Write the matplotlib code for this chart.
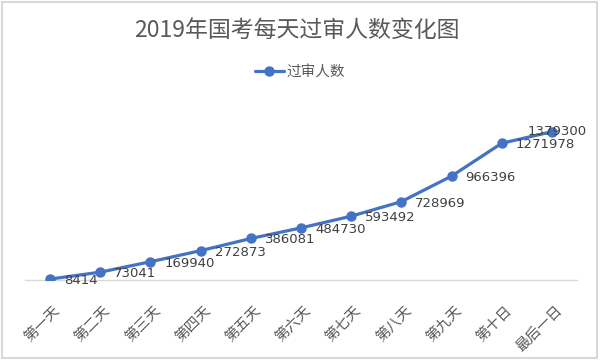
import matplotlib
matplotlib.use("Agg")
import matplotlib.pyplot as plt
from matplotlib.patches import Rectangle
from matplotlib.transforms import ScaledTranslation

# 2019 national civil service exam: cumulative applicants passing review per day
days = ["第一天", "第二天", "第三天", "第四天", "第五天", "第六天",
        "第七天", "第八天", "第九天", "第十日", "最后一日"]
counts = [8414, 73041, 169940, 272873, 386081, 484730,
          593492, 728969, 966396, 1271978, 1379300]

blue = "#4472C4"
grey_txt = "#595959"
grey_line = "#D9D9D9"

plt.rcParams['font.family'] = ['Noto Sans CJK SC', 'DejaVu Sans']

fig = plt.figure(figsize=(6, 3.62), dpi=100)
ax = fig.add_axes([25 / 600, 82 / 362, 552 / 600, 172 / 362])

x = list(range(len(days)))
line, = ax.plot(x, counts, color=blue, lw=2.3, marker="o", ms=6.5,
                solid_capstyle="round", label="过审人数", zorder=3)

for xi, v in zip(x, counts):
    if xi == x[-1]:
        # last label sits on top of its point in the original
        ax.annotate(str(v), (xi, v), xytext=(4, 0), textcoords="offset points",
                    ha="center", va="center", fontsize=9.5, color="#404040",
                    family="DejaVu Sans", zorder=4)
    else:
        ax.annotate(str(v), (xi, v), xytext=(10, -1), textcoords="offset points",
                    ha="left", va="center", fontsize=9.5, color="#404040",
                    family="DejaVu Sans", zorder=4)

ax.set_xlim(-0.5, len(days) - 0.5)
ax.set_ylim(0, 1600000)
ax.set_yticks([])
ax.set_xticks(x)
ax.set_xticklabels(days, rotation=45, ha="right", va="top",
                   rotation_mode="anchor", fontsize=10.5, color=grey_txt)
ax.tick_params(axis="x", length=0, pad=17)
shift = ScaledTranslation(3 / 100, 0, fig.dpi_scale_trans)
for lab in ax.get_xticklabels():
    lab.set_transform(lab.get_transform() + shift)
for s in ["top", "right", "left"]:
    ax.spines[s].set_visible(False)
ax.spines["bottom"].set_color(grey_line)
ax.spines["bottom"].set_linewidth(1)

fig.text(297 / 600, 1 - 30 / 362, "2019年国考每天过审人数变化图", ha="center",
         va="center", fontsize=16.5, color=grey_txt)
fig.legend(handles=[line], loc="center", bbox_to_anchor=(300 / 600, 1 - 72 / 362),
           frameon=False, fontsize=10.5, handlelength=2.0, handletextpad=0.2,
           labelcolor=grey_txt)

fig.patches.append(Rectangle((2 / 600, 4 / 362), 595 / 600, 356 / 362,
                             transform=fig.transFigure, fill=False,
                             edgecolor=grey_line, lw=1.5))

fig.savefig("out.png", dpi=100, facecolor="white")
